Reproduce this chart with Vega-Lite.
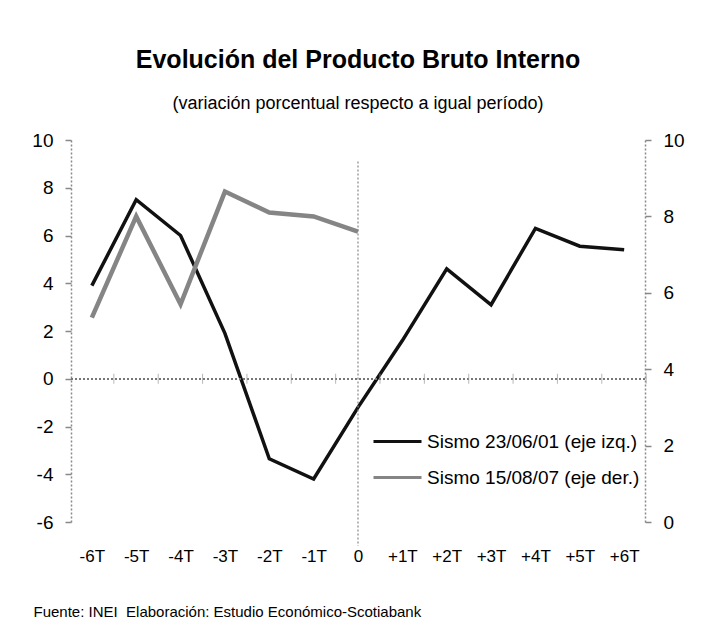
{
  "$schema": "https://vega.github.io/schema/vega-lite/v6.json",
  "width": 574,
  "height": 382,
  "autosize": "none",
  "padding": {"left": 71, "top": 140, "right": 64, "bottom": 108},
  "background": "white",
  "config": {
    "view": {"stroke": null},
    "font": "Liberation Sans",
    "axisX": {
      "domain": false, "ticks": false, "tickSize": 0, "grid": false,
      "labelFont": "Liberation Sans", "labelFontSize": 17, "labelColor": "black",
      "labelPadding": 26, "labelAngle": 0,
      "titleFont": "Liberation Sans", "titleFontSize": 15, "titleFontWeight": "normal", "titleColor": "black",
      "titleAnchor": "start", "titleAlign": "left", "titleBaseline": "alphabetic", "titleX": -38, "titleY": 94
    },
    "axisY": {
      "grid": false, "domainColor": "#888888", "domainDash": [2, 2], "domainWidth": 1.5,
      "tickColor": "#888888", "tickSize": 6, "tickWidth": 1.5,
      "labelFont": "Liberation Sans", "labelFontSize": 19, "labelColor": "black", "labelPadding": 12,
      "labelExpr": "'' + datum.value"
    }
  },
  "title": {
    "text": "Evolución del Producto Bruto Interno",
    "subtitle": "(variación porcentual respecto a igual período)",
    "anchor": "middle",
    "font": "Liberation Sans", "fontSize": 25, "fontWeight": "bold", "color": "black",
    "subtitleFont": "Liberation Sans", "subtitleFontSize": 18, "subtitleColor": "black",
    "subtitlePadding": 22, "offset": 18
  },
  "datasets": {
    "izq": [
      {"t": "-6T", "v": 3.9}, {"t": "-5T", "v": 7.5}, {"t": "-4T", "v": 6.0}, {"t": "-3T", "v": 1.9},
      {"t": "-2T", "v": -3.35}, {"t": "-1T", "v": -4.2}, {"t": "0", "v": -1.2}, {"t": "+1T", "v": 1.6},
      {"t": "+2T", "v": 4.6}, {"t": "+3T", "v": 3.1}, {"t": "+4T", "v": 6.3}, {"t": "+5T", "v": 5.55},
      {"t": "+6T", "v": 5.4}
    ],
    "der": [
      {"t": "-6T", "v": 5.35}, {"t": "-5T", "v": 8.0}, {"t": "-4T", "v": 5.7}, {"t": "-3T", "v": 8.65},
      {"t": "-2T", "v": 8.1}, {"t": "-1T", "v": 8.0}, {"t": "0", "v": 7.6}
    ]
  },
  "layer": [
    {
      "layer": [
        {
          "data": {"name": "izq"},
          "mark": {"type": "line", "strokeWidth": 3.5, "strokeJoin": "miter"},
          "encoding": {
            "x": {"field": "t", "type": "ordinal", "scale": {"type": "point", "domain": ["-6T","-5T","-4T","-3T","-2T","-1T","0","+1T","+2T","+3T","+4T","+5T","+6T"], "padding": 0.47}, "title": "Fuente: INEI\u00a0 Elaboración: Estudio Económico-Scotiabank"},
            "y": {"field": "v", "type": "quantitative", "scale": {"domain": [-6, 10], "nice": false}, "title": null, "axis": {"orient": "left", "values": [-6, -4, -2, 0, 2, 4, 6, 8, 10], "title": null}},
            "color": {
              "datum": "Sismo 23/06/01 (eje izq.)", "type": "nominal",
              "scale": {"domain": ["Sismo 23/06/01 (eje izq.)", "Sismo 15/08/07 (eje der.)"], "range": ["#111111", "#858585"]},
              "legend": {
                "orient": "none", "legendX": 301, "legendY": 276, "title": null,
                "symbolType": "stroke", "symbolSize": 2304, "symbolStrokeWidth": 3,
                "labelFont": "Liberation Sans", "labelFontSize": 19, "labelColor": "black",
                "labelOffset": 4, "rowPadding": 0, "labelLimit": 400
              }
            }
          }
        },
        {
          "data": {"name": "izq"},
          "mark": {"type": "rule", "color": "#777777", "strokeDash": [2, 2], "strokeWidth": 1.5},
          "encoding": {
            "y": {"datum": 0, "type": "quantitative", "title": null}
          }
        },
        {
          "data": {"name": "izq"},
          "mark": {"type": "tick", "orient": "vertical", "size": 10, "thickness": 1, "color": "#999999", "xOffset": 22},
          "encoding": {
            "x": {"field": "t", "type": "ordinal"},
            "y": {"datum": 0, "type": "quantitative", "title": null}
          }
        },
        {
          "data": {"values": [{"t": "0"}]},
          "mark": {"type": "rule", "color": "#888888", "strokeDash": [2, 2], "strokeWidth": 1.2},
          "encoding": {
            "x": {"field": "t", "type": "ordinal"},
            "y": {"datum": 9.1, "type": "quantitative", "title": null},
            "y2": {"datum": -7}
          }
        }
      ]
    },
    {
      "data": {"name": "der"},
      "mark": {"type": "line", "strokeWidth": 4.5, "strokeJoin": "miter"},
      "encoding": {
        "x": {"field": "t", "type": "ordinal"},
        "y": {"field": "v", "type": "quantitative", "scale": {"domain": [0, 10], "nice": false}, "title": null, "axis": {"orient": "right", "values": [0, 2, 4, 6, 8, 10], "title": null}},
        "color": {"datum": "Sismo 15/08/07 (eje der.)", "type": "nominal", "legend": null}
      }
    }
  ],
  "resolve": {"scale": {"y": "independent"}}
}
